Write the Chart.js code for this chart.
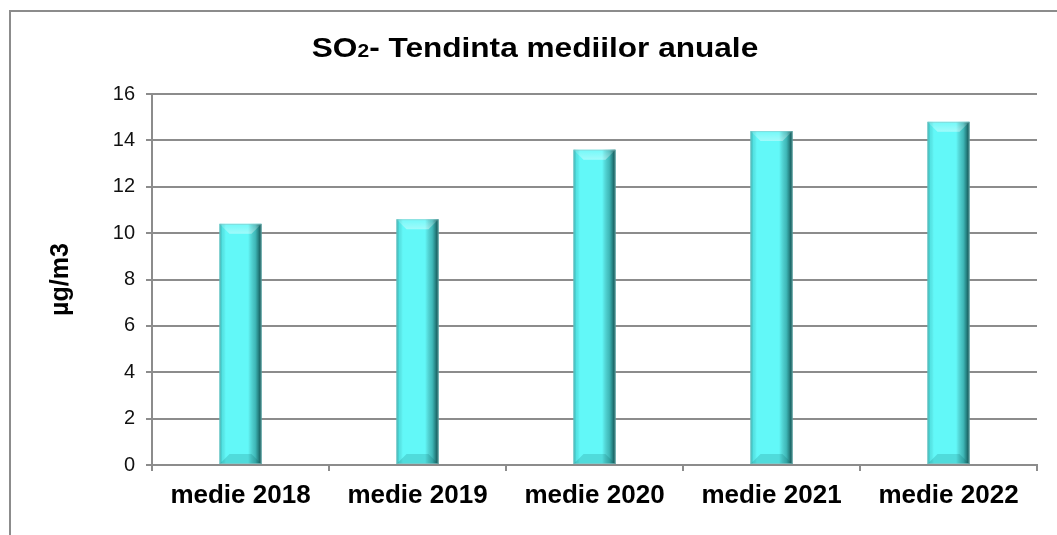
<!DOCTYPE html>
<html>
<head>
<meta charset="utf-8">
<script src="https://cdn.jsdelivr.net/npm/chart.js@4/dist/chart.umd.min.js"></script>
<style>
  html, body { margin: 0; padding: 0; background: #fff; }
  #myChart { display: block; }
</style>
</head>
<body>
<canvas id="myChart" width="1057" height="535"></canvas>
<script>
var categorii = ["medie 2018", "medie 2019", "medie 2020", "medie 2021", "medie 2022"];
var medii = [10.4, 10.6, 13.6, 14.4, 14.8];
var titluAxaY = "µg/m3";
var titluGrafic = ["SO", "2", "- Tendinta mediilor anuale"];

var gri = "#8c8c8c";

// rama si titlul graficului
var ramaSiTitlu = {
    id: "ramaSiTitlu",
    beforeDraw: function (chart) {
        var c = chart.ctx;
        c.save();
        c.strokeStyle = gri;
        c.lineWidth = 2;
        c.strokeRect(10, 11, 1200, 700);
        c.restore();
    },
    afterDraw: function (chart) {
        var c = chart.ctx;
        c.save();
        c.fillStyle = "#000";
        c.textBaseline = "alphabetic";
        var mare = "bold 27px 'Liberation Sans', Arial, sans-serif";
        var mic = "bold 18px 'Liberation Sans', Arial, sans-serif";
        c.font = mare;
        var w1 = c.measureText(titluGrafic[0]).width;
        var w3 = c.measureText(titluGrafic[2]).width;
        c.font = mic;
        var w2 = c.measureText(titluGrafic[1]).width;
        var sx = 1.17;
        var total = (w1 + w2 + w3) * sx;
        var x0 = 535 - total / 2;
        c.translate(x0, 57);
        c.scale(sx, 1);
        c.font = mare;
        c.fillText(titluGrafic[0], 0, 0);
        c.font = mic;
        c.fillText(titluGrafic[1], w1, 0);
        c.font = mare;
        c.fillText(titluGrafic[2], w1 + w2, 0);
        c.restore();
    }
};

// efect de relief pe coloane
var relief = {
    id: "relief",
    afterDatasetsDraw: function (chart) {
        var c = chart.ctx;
        var meta = chart.getDatasetMeta(0);
        meta.data.forEach(function (bar) {
            var p = bar.getProps(["x", "y", "base", "width"], true);
            var x0 = p.x - p.width / 2;
            var x1 = p.x + p.width / 2;
            var top = p.y;
            var bot = p.base;
            var b = Math.min(10, (bot - top) / 3);
            c.save();
            var g = c.createLinearGradient(x0, 0, x1, 0);
            g.addColorStop(0, "rgba(0,110,110,0.55)");
            g.addColorStop(0.07, "rgba(0,110,110,0.15)");
            g.addColorStop(0.15, "rgba(0,0,0,0)");
            g.addColorStop(0.68, "rgba(0,0,0,0)");
            g.addColorStop(0.85, "rgba(0,70,70,0.35)");
            g.addColorStop(1, "rgba(0,40,40,0.85)");
            c.fillStyle = g;
            c.fillRect(x0, top, x1 - x0, bot - top);
            // sus
            c.beginPath();
            c.moveTo(x0, top);
            c.lineTo(x1, top);
            c.lineTo(x1 - b, top + b);
            c.lineTo(x0 + b, top + b);
            c.closePath();
            var gs = c.createLinearGradient(0, top, 0, top + b);
            gs.addColorStop(0, "rgba(255,255,255,0.1)");
            gs.addColorStop(1, "rgba(255,255,255,0.4)");
            c.fillStyle = gs;
            c.fill();
            // jos
            c.beginPath();
            c.moveTo(x0, bot);
            c.lineTo(x1, bot);
            c.lineTo(x1 - b, bot - b);
            c.lineTo(x0 + b, bot - b);
            c.closePath();
            c.fillStyle = "rgba(0,90,90,0.18)";
            c.fill();
            c.strokeStyle = "rgba(140,200,200,0.6)";
            c.lineWidth = 1;
            c.strokeRect(x0 + 0.5, top + 0.5, x1 - x0 - 1, bot - top - 1);
            c.restore();
        });
    }
};

var ctx = document.getElementById("myChart").getContext("2d");
var myChart = new Chart(ctx, {
    type: "bar",
    data: {
        labels: categorii,
        datasets: [
            {
                label: "SO2",
                data: medii,
                backgroundColor: "#62f8f8",
                borderWidth: 0,
                barPercentage: 0.237,
                categoryPercentage: 1
            }
        ]
    },
    options: {
        responsive: false,
        animation: false,
        layout: {
            padding: { top: 94, right: 20, left: 0, bottom: 0 }
        },
        plugins: {
            legend: { display: false },
            tooltip: { enabled: false }
        },
        scales: {
            x: {
                afterFit: function (scale) { scale.height = 70; },
                grid: {
                    drawOnChartArea: false,
                    drawTicks: true,
                    tickLength: 6,
                    color: gri,
                    lineWidth: 2
                },
                border: { display: true, color: gri, width: 2 },
                ticks: {
                    color: "#000",
                    padding: 9,
                    font: { family: "'Liberation Sans', Arial, sans-serif", size: 26, weight: "bold" }
                }
            },
            y: {
                min: 0,
                max: 16,
                afterFit: function (scale) { scale.width = 152; },
                grid: {
                    color: gri,
                    lineWidth: 2,
                    drawTicks: true,
                    tickLength: 6
                },
                border: { display: true, color: gri, width: 2 },
                ticks: {
                    stepSize: 2,
                    color: "#111",
                    padding: 11,
                    font: { family: "'Liberation Sans', Arial, sans-serif", size: 20 }
                },
                title: {
                    display: true,
                    text: titluAxaY,
                    color: "#000",
                    padding: { top: 46, bottom: 0 },
                    font: { family: "'Liberation Sans', Arial, sans-serif", size: 25, weight: "bold" }
                }
            }
        }
    },
    plugins: [ramaSiTitlu, relief]
});
</script>
</body>
</html>
